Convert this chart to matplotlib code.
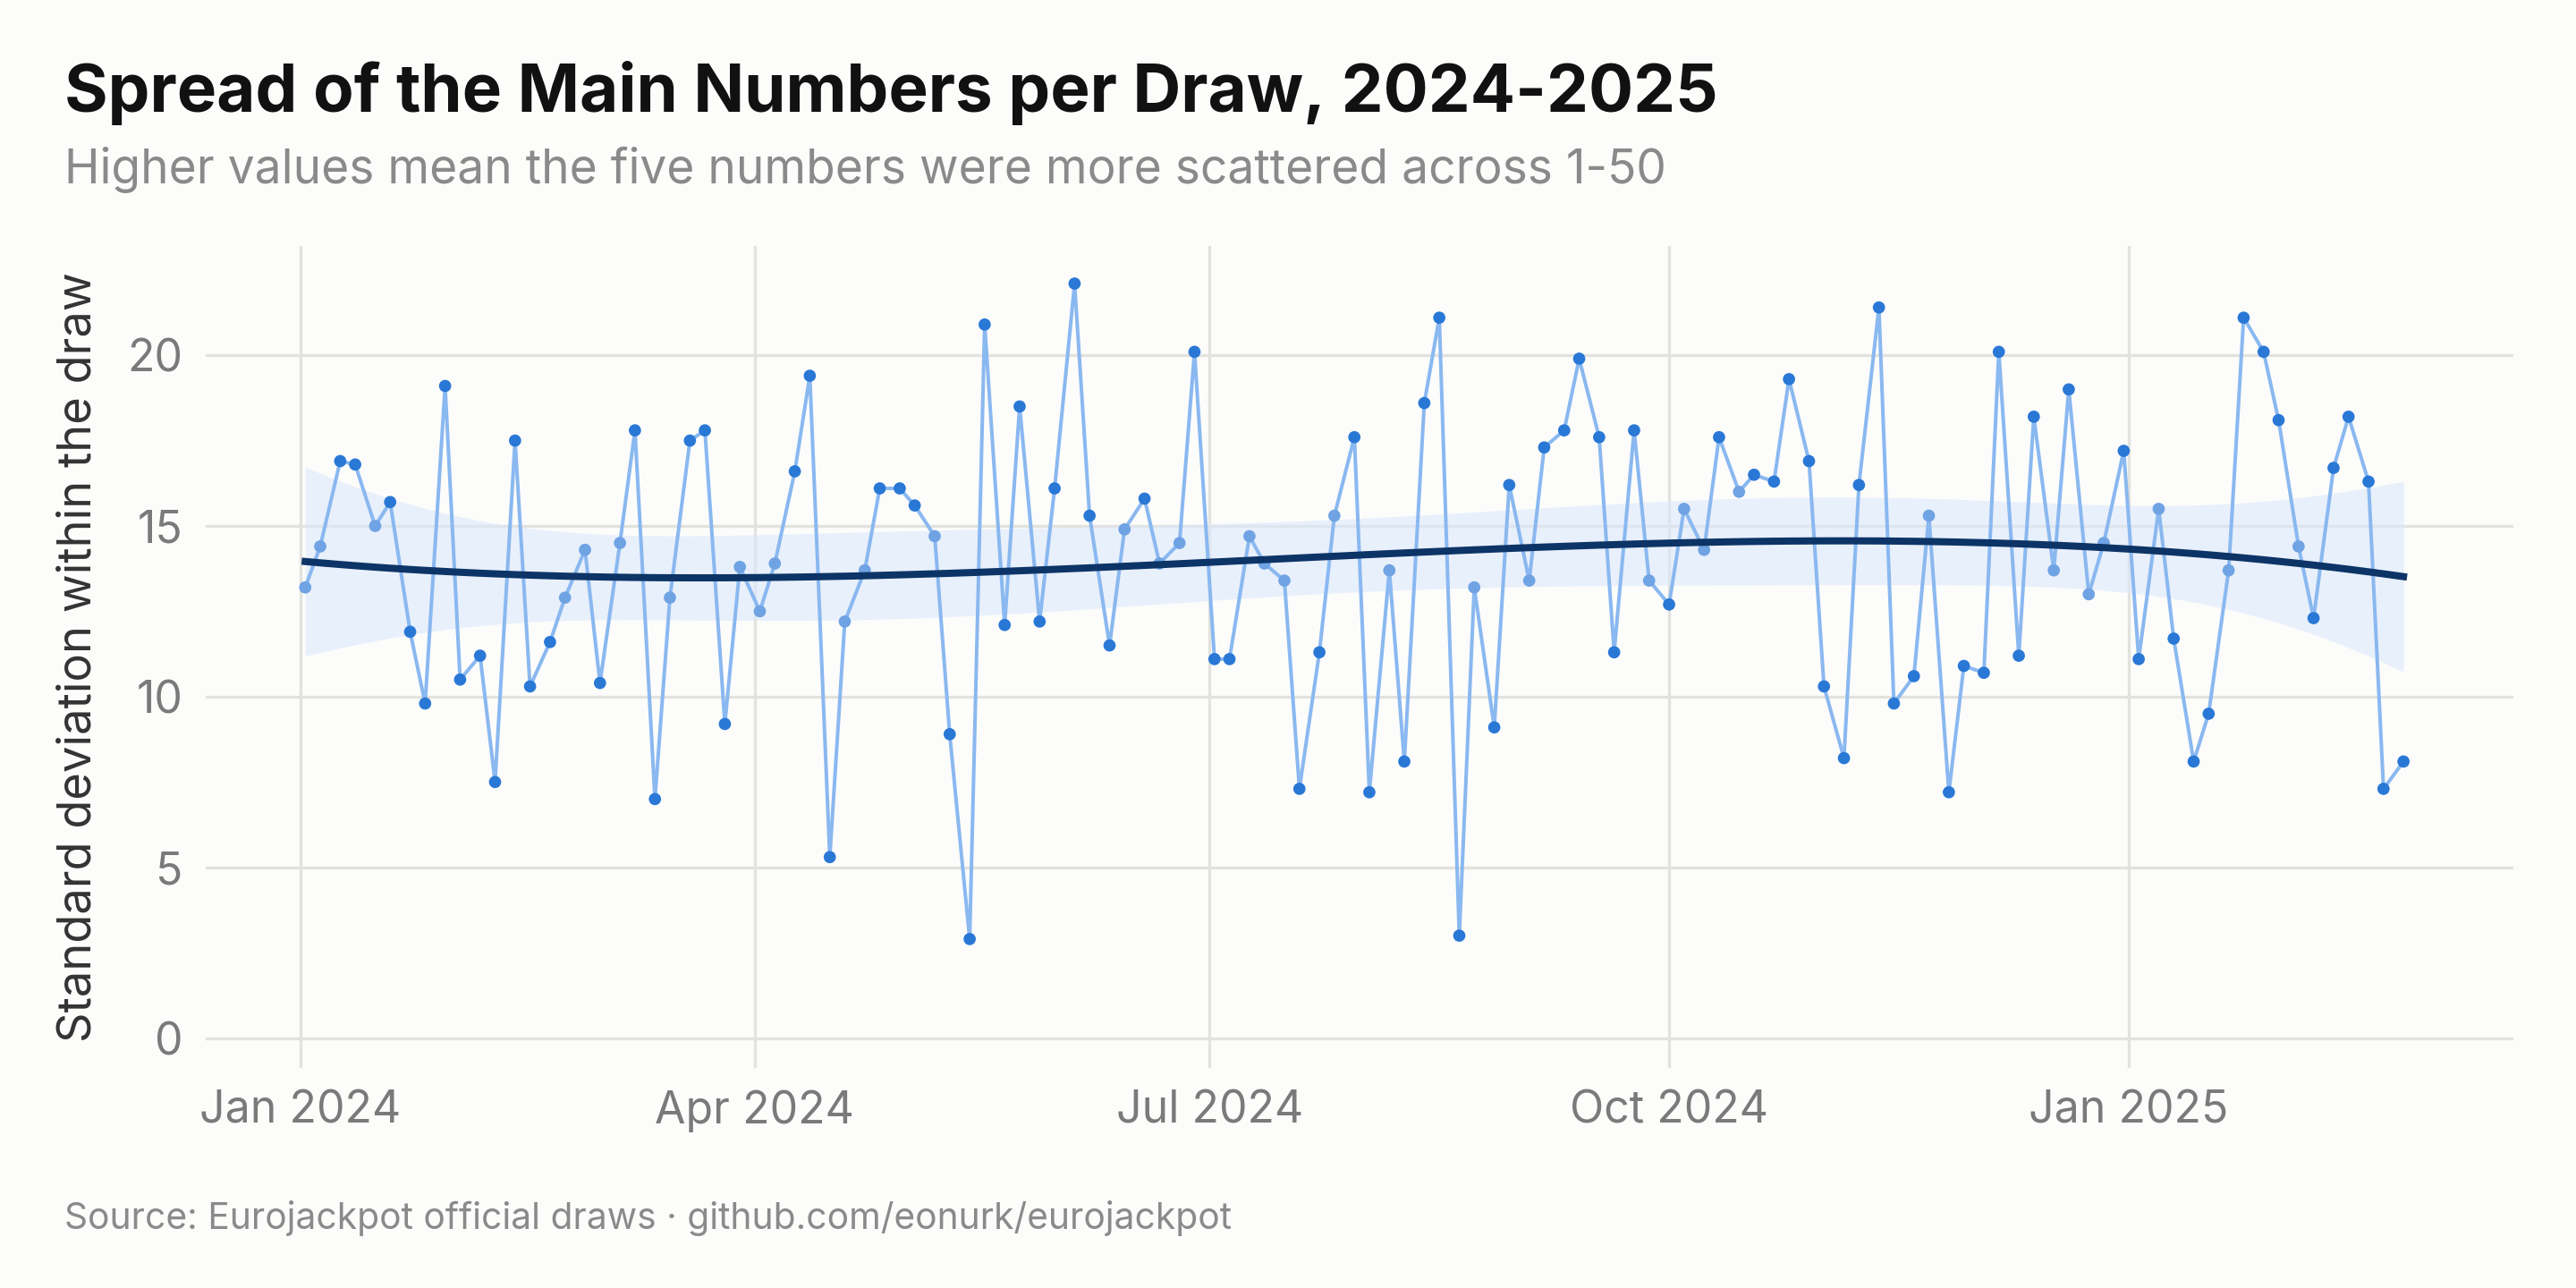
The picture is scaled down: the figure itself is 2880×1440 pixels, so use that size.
import numpy as np
import pandas as pd
import matplotlib
matplotlib.use("Agg")
import matplotlib.pyplot as plt
import matplotlib.dates as mdates

plt.rcParams['font.family'] = ['Inter', 'DejaVu Sans']

# twice-weekly draws (Tue / Fri) starting 2 Jan 2024
first_draw = "2024-01-02"
n_draws = 121
spread = [
    13.2, 14.4, 16.9, 16.8, 15.0, 15.7, 11.9, 9.8, 19.1, 10.5,
    11.2, 7.5, 17.5, 10.3, 11.6, 12.9, 14.3, 10.4, 14.5, 17.8,
    7.0, 12.9, 17.5, 17.8, 9.2, 13.8, 12.5, 13.9, 16.6, 19.4,
    5.3, 12.2, 13.7, 16.1, 16.1, 15.6, 14.7, 8.9, 2.9, 20.9,
    12.1, 18.5, 12.2, 16.1, 22.1, 15.3, 11.5, 14.9, 15.8, 13.9,
    14.5, 20.1, 11.1, 11.1, 14.7, 13.9, 13.4, 7.3, 11.3, 15.3,
    17.6, 7.2, 13.7, 8.1, 18.6, 21.1, 3.0, 13.2, 9.1, 16.2,
    13.4, 17.3, 17.8, 19.9, 17.6, 11.3, 17.8, 13.4, 12.7, 15.5,
    14.3, 17.6, 16.0, 16.5, 16.3, 19.3, 16.9, 10.3, 8.2, 16.2,
    21.4, 9.8, 10.6, 15.3, 7.2, 10.9, 10.7, 20.1, 11.2, 18.2,
    13.7, 19.0, 13.0, 14.5, 17.2, 11.1, 15.5, 11.7, 8.1, 9.5,
    13.7, 21.1, 20.1, 18.1, 14.4, 12.3, 16.7, 18.2, 16.3, 7.3,
    8.1,
]

start = pd.Timestamp(first_draw)
offsets = [(i // 2) * 7 + (i % 2) * 3 for i in range(n_draws)]
dates = [start + pd.Timedelta(days=d) for d in offsets]
y = np.array(spread)

# smooth trend: cubic fit with 95% confidence band
t = np.array(offsets, dtype=float)
ts = (t - t.mean()) / t.std()
X = np.vander(ts, 4)
beta, *_ = np.linalg.lstsq(X, y, rcond=None)
resid = y - X @ beta
s2 = resid @ resid / (len(y) - 4)
cov = s2 * np.linalg.inv(X.T @ X)
fit = X @ beta
se = np.sqrt(np.einsum('ij,jk,ik->i', X, cov, X))
lo, hi = fit - 1.96 * se, fit + 1.96 * se

fig = plt.figure(figsize=(16, 8), dpi=180, facecolor='#fcfcfb')
ax = fig.add_axes([0.0797, 0.171, 0.896, 0.638])
ax.set_facecolor('#fcfcfb')

ax.fill_between(dates, lo, hi, color='#dbe8fb', alpha=0.6, lw=0, zorder=1)
ax.plot(dates, y, color='#8ab8f0', lw=1.6, zorder=2)
near = np.abs(y - fit) < 1.5
cols = np.where(near, '#6fa3e3', '#2a78d6')
ax.scatter(dates, y, s=30, c=cols, zorder=3, lw=0)
ax.plot(dates, fit, color='#0d3466', lw=3.2, zorder=4)

ax.set_ylim(-0.87, 23.2)
ax.set_xlim(pd.Timestamp('2023-12-13'), pd.Timestamp('2025-03-19'))
ax.set_yticks([0, 5, 10, 15, 20])
ax.xaxis.set_major_locator(mdates.MonthLocator(bymonth=[1, 4, 7, 10]))
ax.xaxis.set_major_formatter(mdates.DateFormatter('%b %Y'))
ax.grid(True, color='#e2e2de', lw=1.3)
ax.set_axisbelow(True)
for sp in ax.spines.values():
    sp.set_visible(False)
ax.tick_params(length=0, labelsize=20, labelcolor='#7a7a7a', pad=10)
ax.set_ylabel('Standard deviation within the draw', fontsize=21, color='#333333', labelpad=12)

fig.text(0.025, 0.928, 'Spread of the Main Numbers per Draw, 2024-2025',
         fontsize=29.8, fontweight='bold', color='#111111', va='center')
fig.text(0.025, 0.868, 'Higher values mean the five numbers were more scattered across 1-50',
         fontsize=21.3, color='#8a8a8a', va='center')
fig.text(0.025, 0.054, 'Source: Eurojackpot official draws · github.com/eonurk/eurojackpot',
         fontsize=16.3, color='#8a8a8a', va='center')

fig.savefig('out.png', dpi=180, facecolor=fig.get_facecolor())
